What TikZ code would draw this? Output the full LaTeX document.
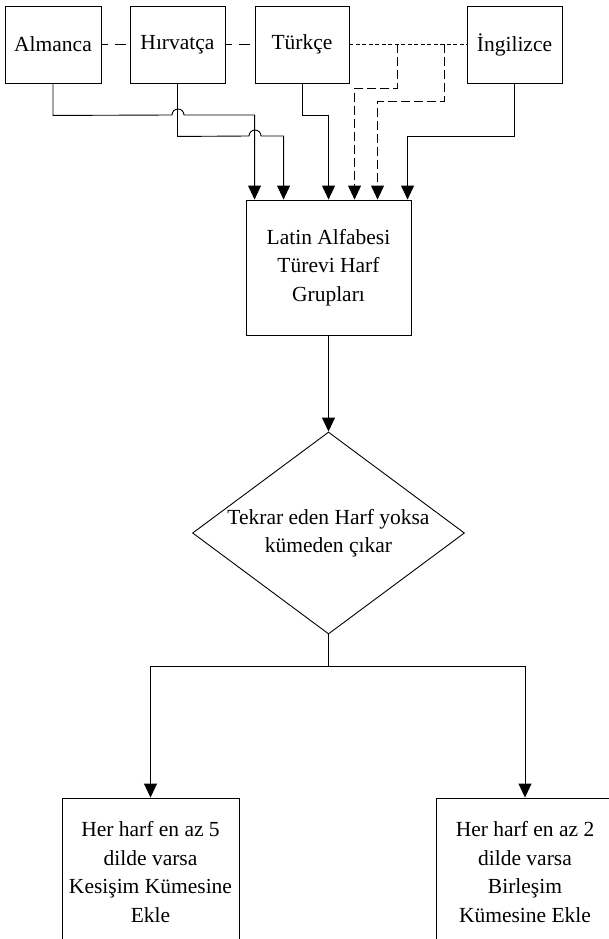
\documentclass[tikz,border=0pt]{standalone}
\usepackage{fontspec}
\setmainfont{Liberation Serif}
\newfontfamily\yazi{Liberation Serif}
\usetikzlibrary{shapes.geometric}
\usetikzlibrary{arrows.meta}
\usetikzlibrary{calc}

\begin{document}
\begin{tikzpicture}[x=1pt,y=-1pt,
	kutu/.style={draw,line width=0.9pt,align=center,inner sep=0pt,font=\yazi\fontsize{21.5}{28.5}\selectfont},
	karar/.style={draw,diamond,line width=0.9pt,inner sep=0pt,minimum width=272pt,minimum height=202pt},
	cizgi/.style={line width=0.9pt},
	ok/.style={line width=0.9pt,-{Triangle[width=13pt,length=14pt]}},
	uzun/.style={line width=0.9pt,dash pattern=on 11pt off 7pt,dash phase=4pt},
	kisa/.style={line width=0.9pt,dash pattern=on 4pt off 2.5pt},
	orta/.style={line width=0.9pt,dash pattern=on 9pt off 4pt}]
\useasboundingbox (0,0) rectangle (609,939);
\clip (0,0) rectangle (609,939);
% les langues
\node[kutu,minimum width=96pt,minimum height=77pt] (AL) at (53,44.5) {Almanca};
\node[kutu,minimum width=95pt,minimum height=77pt] (HR) at (177.5,44.5) {Hırvatça};
\node[kutu,minimum width=94pt,minimum height=77pt] (TR) at (302,44.5) {Türkçe};
\node[kutu,minimum width=95pt,minimum height=77pt] (EN) at (514.5,44.5) {İngilizce};
\node[kutu,minimum width=165pt,minimum height=135pt] (L) at (328.5,267.5) {Latin Alfabesi\\Türevi Harf\\Grupları};
\node[karar] (D) at (328.5,533) {};
\node[font=\yazi\fontsize{21.5}{28.5}\selectfont,align=center] at (D) {Tekrar eden Harf yoksa\\kümeden çıkar};
\node[kutu,minimum width=177pt,minimum height=148pt] (K) at (150.5,872) {Her harf en az 5\\dilde varsa\\Kesişim Kümesine\\Ekle};
\node[kutu,minimum width=178pt,minimum height=148pt] (B) at (525,872) {Her harf en az 2\\dilde varsa\\Birleşim\\Kümesine Ekle};
% entrees de la boite L
\coordinate (g1) at ($(L.north west)+(9,0)$);
\coordinate (g2) at ($(L.north west)+(38,0)$);
\coordinate (g3) at ($(L.north west)+(83,0)$);
\coordinate (g4) at ($(L.north west)+(109,0)$);
\coordinate (g5) at ($(L.north west)+(132,0)$);
\coordinate (g6) at ($(L.north west)+(162,0)$);
\coordinate (d1) at ($(TR.east)+(48,0)$);
\coordinate (d2) at ($(TR.east)+(95,0)$);
\draw[uzun] (AL.east) -- (HR.west);
\draw[uzun] (HR.east) -- (TR.west);
\draw[kisa] (TR.east) -- (EN.west);
\draw[ok] (AL.south) -- ++(0,32) -- (172,115) arc[start angle=180,end angle=360,radius=6] -| (g1);
\draw[ok] (HR.south) -- ++(0,53) -- (249,136) arc[start angle=180,end angle=360,radius=6] -| (g2);
\draw[ok] (TR.south) -- ++(0,32) -| (g3);
\draw[ok,orta] (d1) -- ++(0,44) -| (g4);
\draw[ok,orta] (d2) -- ++(0,57) -| (g5);
\draw[ok] (EN.south) -- ++(0,53) -| (g6);
% vers le losange
\draw[ok] (L.south) -- (D.north);
\draw[cizgi] (D.south) -- ++(0,32) coordinate (b);
\draw[ok] (b) -| (K.north);
\draw[ok] (b) -| (B.north);
\end{tikzpicture}
\end{document}
